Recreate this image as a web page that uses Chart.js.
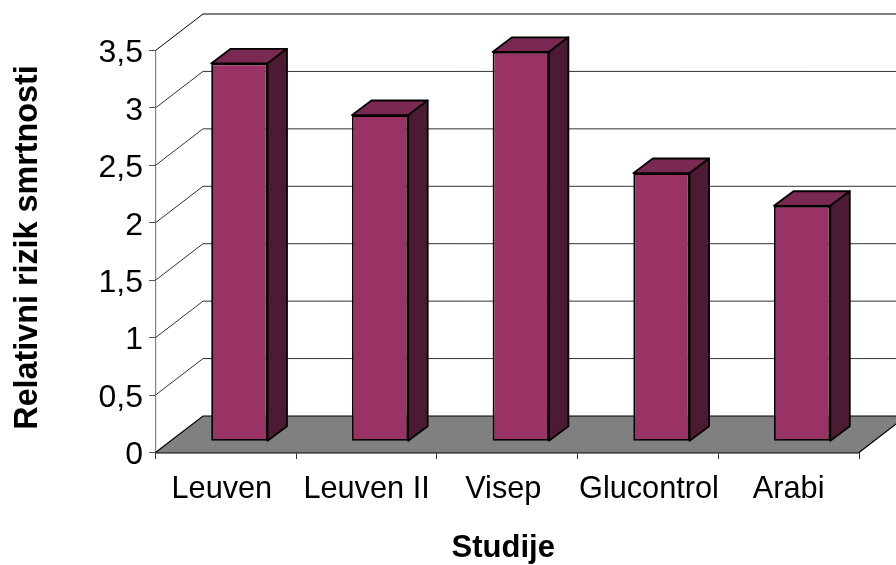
<!DOCTYPE html>
<html><head><meta charset="utf-8">
<script src="https://cdn.jsdelivr.net/npm/chart.js@4"></script>
<style>html,body{margin:0;padding:0;background:#fff}canvas{display:block}</style>
</head><body><canvas id="c" width="896" height="565"></canvas>
<script>
const categories = ["Leuven", "Leuven II", "Visep", "Glucontrol", "Arabi"];
const riskValues = [3.29, 2.84, 3.39, 2.335, 2.05];
const yTicks = [0, 0.5, 1, 1.5, 2, 2.5, 3, 3.5];
const xTitle = "Studije";
const yTitle = "Relativni rizik smrtnosti";

const FONT = "'Liberation Sans', Arial, sans-serif";
const WALL = {dx: 47.5, dy: -36.5};
const BAR_SHIFT = {dx: 13.5, dy: -11.2};
const BAR_DEPTH = {dx: 19.5, dy: -14.6};
const X_LABEL_NUDGE = [-4, 0, -4, 1, 0];
const Y_LABEL_NUDGE = 3;
const X_LABEL_DY = 2;
const X_TITLE_NUDGE = [-4, 2];
const Y_TITLE_NUDGE = [9, -4];

function poly(ctx, pts, fill, stroke, lw) {
  ctx.beginPath();
  pts.forEach((p, i) => i ? ctx.lineTo(p[0], p[1]) : ctx.moveTo(p[0], p[1]));
  ctx.closePath();
  if (fill) { ctx.fillStyle = fill; ctx.fill(); }
  if (stroke) { ctx.strokeStyle = stroke; ctx.lineWidth = lw; ctx.lineJoin = 'round'; ctx.stroke(); }
}
function shiftTitle(scale, ctx, d) {
  const orig = scale.drawTitle;
  scale.drawTitle = function () {
    ctx.save(); ctx.translate(d[0], d[1]); orig.call(scale); ctx.restore();
  };
}

const wall3d = {
  id: 'wall3d',
  beforeDraw(chart) {
    const {ctx, scales: {x, y}} = chart;
    if (x._nudged) return;
    x._nudged = true;
    x.getLabelItems().forEach((it, i) => {
      const t = it.options.translation;
      it.options = Object.assign({}, it.options, {translation: [t[0] + X_LABEL_NUDGE[i], t[1] + X_LABEL_DY]});
    });
    y.getLabelItems().forEach(it => {
      const t = it.options.translation;
      it.options = Object.assign({}, it.options, {translation: [t[0], t[1] + Y_LABEL_NUDGE]});
    });
    shiftTitle(x, ctx, X_TITLE_NUDGE);
    shiftTitle(y, ctx, Y_TITLE_NUDGE);
  },
  beforeDatasetsDraw(chart) {
    const {ctx, scales: {x, y}, width} = chart;
    const L = x.left, R = x.right;
    ctx.save();
    yTicks.forEach(v => {
      const py = y.getPixelForValue(v);
      if (v > 0) {
        ctx.strokeStyle = v === 3.5 ? '#000' : '#333';
        ctx.lineWidth = 1;
        ctx.beginPath();
        ctx.moveTo(L, py);
        ctx.lineTo(L + WALL.dx, py + WALL.dy);
        ctx.lineTo(width + 2, py + WALL.dy);
        ctx.stroke();
      }
    });
    const y0 = y.getPixelForValue(0);
    poly(ctx, [[L, y0], [L + WALL.dx, y0 + WALL.dy], [R + WALL.dx, y0 + WALL.dy], [R, y0]], '#808080', null, 0);
    ctx.strokeStyle = '#000'; ctx.lineWidth = 1.2;
    ctx.beginPath();
    ctx.moveTo(L, y0); ctx.lineTo(L + WALL.dx, y0 + WALL.dy); ctx.lineTo(width + 2, y0 + WALL.dy);
    ctx.moveTo(R, y0); ctx.lineTo(R + WALL.dx, y0 + WALL.dy);
    ctx.stroke();
    ctx.restore();
  },
  beforeDatasetDraw(chart) {
    chart.ctx.save();
    chart.ctx.translate(BAR_SHIFT.dx, BAR_SHIFT.dy);
  },
  afterDatasetDraw(chart, args) {
    const ctx = chart.ctx;
    args.meta.data.forEach(b => {
      const l = b.x - b.width / 2, r = b.x + b.width / 2, t = b.y, bt = b.base;
      const dx = BAR_DEPTH.dx, dy = BAR_DEPTH.dy;
      poly(ctx, [[l, t], [l + dx, t + dy], [r + dx, t + dy], [r, t]], '#7a2a52', '#000', 1.8);
      poly(ctx, [[r, t], [r + dx, t + dy], [r + dx, bt + dy], [r, bt]], '#4d1a33', '#000', 1.8);
    });
    ctx.restore();
  }
};

new Chart(document.getElementById('c'), {
  type: 'bar',
  data: {
    labels: categories,
    datasets: [{
      data: riskValues,
      backgroundColor: '#993366',
      borderColor: '#000',
      borderWidth: 1.8,
      borderSkipped: false,
      barPercentage: 0.4,
      categoryPercentage: 1,
      clip: false
    }]
  },
  options: {
    responsive: false,
    animation: false,
    layout: {padding: {left: 0, right: 37, top: 50.5, bottom: 0}},
    plugins: {legend: {display: false}, tooltip: {enabled: false}},
    scales: {
      x: {
        afterFit(s) { s.height = 112.5; },
        grid: {drawOnChartArea: false, color: '#333', tickLength: 6.5, lineWidth: 1},
        border: {color: '#000', width: 1.4},
        ticks: {color: '#000', font: {family: FONT, size: 30.7}, padding: 10, maxRotation: 0, autoSkip: false},
        title: {display: true, text: xTitle, color: '#000', font: {family: FONT, size: 31, weight: 'bold'}, padding: {top: 24, bottom: 0}}
      },
      y: {
        min: 0, max: 3.5,
        afterFit(s) { s.width = 155.5; },
        afterBuildTicks(s) { s.ticks = yTicks.map(v => ({value: v})); },
        grid: {drawOnChartArea: false, color: '#555', tickLength: 6.5, lineWidth: 1},
        border: {color: '#808080', width: 1.2},
        ticks: {
          color: '#000', font: {family: FONT, size: 32}, padding: 6,
          callback: v => String(v).replace('.', ',')
        },
        title: {display: true, text: yTitle, color: '#000', font: {family: FONT, size: 32.3, weight: 'bold'}, padding: {top: 0, bottom: 0}}
      }
    }
  },
  plugins: [wall3d]
});
</script></body></html>
